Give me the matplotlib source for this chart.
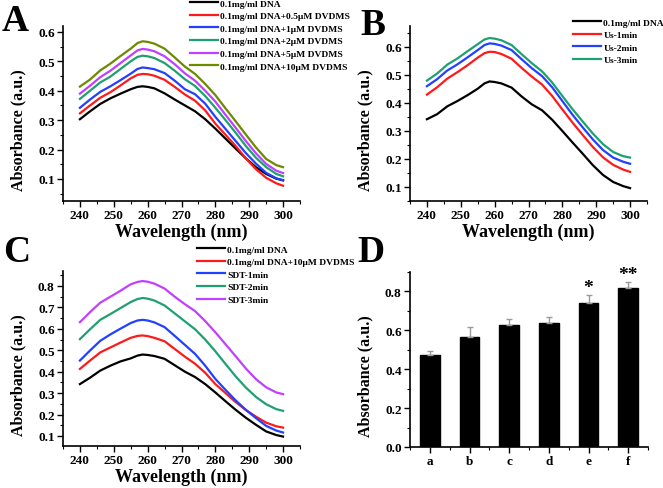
import matplotlib
matplotlib.use('Agg')
import matplotlib.pyplot as plt
from matplotlib.ticker import MultipleLocator

plt.rcParams['font.family'] = ['Liberation Serif', 'DejaVu Serif']
plt.rcParams['font.weight'] = 'bold'

# wavelengths (nm)
wl = [240, 243, 246, 249, 252, 255, 257, 258.5, 260, 262, 265, 268,
      271, 274, 277, 280, 283, 286, 289, 292, 295, 298, 300]

# panel A
a_dna = [0.303, 0.330, 0.355, 0.374, 0.390, 0.405, 0.413, 0.415, 0.413, 0.408, 0.391, 0.370,
         0.350, 0.330, 0.303, 0.271, 0.237, 0.203, 0.170, 0.140, 0.117, 0.101, 0.095]
a_05 = [0.323, 0.350, 0.376, 0.395, 0.418, 0.442, 0.454, 0.457, 0.456, 0.451, 0.437, 0.413,
        0.387, 0.366, 0.333, 0.288, 0.250, 0.212, 0.170, 0.133, 0.104, 0.085, 0.077]
a_1 = [0.342, 0.370, 0.396, 0.415, 0.436, 0.458, 0.474, 0.479, 0.477, 0.473, 0.460, 0.434,
       0.405, 0.388, 0.356, 0.311, 0.270, 0.229, 0.188, 0.152, 0.121, 0.102, 0.096]
a_2 = [0.372, 0.400, 0.428, 0.448, 0.474, 0.500, 0.515, 0.519, 0.517, 0.511, 0.494, 0.468,
       0.439, 0.416, 0.382, 0.342, 0.300, 0.257, 0.212, 0.172, 0.140, 0.117, 0.109]
a_5 = [0.390, 0.417, 0.446, 0.468, 0.494, 0.520, 0.537, 0.542, 0.540, 0.534, 0.517, 0.490,
       0.459, 0.434, 0.400, 0.363, 0.318, 0.274, 0.229, 0.187, 0.151, 0.128, 0.120]
a_10 = [0.414, 0.438, 0.469, 0.492, 0.518, 0.543, 0.562, 0.568, 0.566, 0.560, 0.543, 0.513,
        0.482, 0.457, 0.423, 0.385, 0.340, 0.296, 0.251, 0.207, 0.168, 0.147, 0.140]
a_labels = ['0.1mg/ml DNA', '0.1mg/ml DNA+0.5μM DVDMS', '0.1mg/ml DNA+1μM DVDMS',
            '0.1mg/ml DNA+2μM DVDMS', '0.1mg/ml DNA+5μM DVDMS', '0.1mg/ml DNA+10μM DVDMS']

# panel B
b_dna = [0.342, 0.360, 0.388, 0.407, 0.428, 0.451, 0.470, 0.477, 0.475, 0.470, 0.455, 0.423,
         0.395, 0.374, 0.340, 0.300, 0.259, 0.219, 0.178, 0.143, 0.118, 0.103, 0.096]
b_1 = [0.430, 0.456, 0.487, 0.510, 0.535, 0.562, 0.578, 0.583, 0.582, 0.575, 0.558, 0.525,
       0.494, 0.466, 0.425, 0.377, 0.330, 0.286, 0.243, 0.206, 0.179, 0.162, 0.154]
b_2 = [0.460, 0.485, 0.516, 0.538, 0.563, 0.589, 0.607, 0.613, 0.611, 0.605, 0.589, 0.556,
       0.524, 0.496, 0.456, 0.407, 0.358, 0.313, 0.270, 0.232, 0.205, 0.190, 0.183]
b_3 = [0.480, 0.505, 0.537, 0.559, 0.585, 0.610, 0.627, 0.632, 0.630, 0.624, 0.607, 0.574,
       0.542, 0.513, 0.473, 0.425, 0.378, 0.334, 0.291, 0.253, 0.225, 0.210, 0.205]
b_labels = ['0.1mg/ml DNA', 'Us-1min', 'Us-2min', 'Us-3min']

# panel C
c_dna = [0.342, 0.372, 0.405, 0.428, 0.448, 0.462, 0.475, 0.480, 0.478, 0.473, 0.460, 0.430,
         0.400, 0.375, 0.342, 0.303, 0.262, 0.222, 0.185, 0.152, 0.121, 0.104, 0.097]
c_10 = [0.413, 0.452, 0.490, 0.513, 0.536, 0.558, 0.567, 0.569, 0.566, 0.558, 0.542, 0.506,
        0.470, 0.437, 0.395, 0.342, 0.300, 0.258, 0.221, 0.190, 0.162, 0.145, 0.139]
c_1 = [0.452, 0.499, 0.544, 0.574, 0.601, 0.627, 0.639, 0.642, 0.639, 0.630, 0.608, 0.567,
       0.525, 0.483, 0.428, 0.366, 0.315, 0.266, 0.222, 0.183, 0.147, 0.125, 0.116]
c_2 = [0.552, 0.598, 0.642, 0.669, 0.697, 0.725, 0.739, 0.744, 0.741, 0.732, 0.709, 0.672,
       0.635, 0.598, 0.550, 0.495, 0.436, 0.378, 0.326, 0.282, 0.248, 0.225, 0.217]
c_3 = [0.631, 0.678, 0.722, 0.750, 0.778, 0.808, 0.819, 0.823, 0.820, 0.811, 0.788, 0.750,
       0.715, 0.683, 0.636, 0.584, 0.528, 0.472, 0.415, 0.365, 0.327, 0.303, 0.295]
c_labels = ['0.1mg/ml DNA', '0.1mg/ml DNA+10μM DVDMS', 'SDT-1min', 'SDT-2min', 'SDT-3min']

# panel D
groups = ['a', 'b', 'c', 'd', 'e', 'f']
d_vals = [0.475, 0.565, 0.630, 0.640, 0.740, 0.820]
d_err = [0.020, 0.050, 0.030, 0.030, 0.040, 0.030]
d_sig = ['', '', '', '', '*', '**']

colors = ['black', '#ff1a1a', '#2340ff', '#1fa070', '#c040ff', '#6b8a00']

fig = plt.figure(figsize=(6.63, 4.89), dpi=100)
W, H = 663.0, 489.0


def make_ax(l, r, t, b):
    ax = fig.add_axes([l / W, 1 - b / H, (r - l) / W, (b - t) / H])
    for s in ['top', 'right']:
        ax.spines[s].set_visible(False)
    ax.spines['left'].set_linewidth(1.2)
    ax.spines['bottom'].set_linewidth(1.2)
    ax.tick_params(direction='out', length=4, width=1, labelsize=9.5, pad=2)
    ax.tick_params(which='minor', direction='out', length=2.5, width=0.8)
    return ax


def ylab(ax):
    ax.set_ylabel('Absorbance (a.u.)', fontsize=11.5, fontweight='bold', labelpad=2)
    ax.yaxis.set_label_coords(-0.155, 0.41)


def spectra(ax, series, labels, ylim, leg_anchor):
    for i, (ys, lab) in enumerate(zip(series, labels)):
        ax.plot(wl, ys, color=colors[i], lw=1.6, label=lab)
    ax.set_xlim(235, 305)
    ax.set_ylim(*ylim)
    ax.xaxis.set_major_locator(MultipleLocator(10))
    ax.xaxis.set_minor_locator(MultipleLocator(5))
    ax.yaxis.set_major_locator(MultipleLocator(0.1))
    ax.yaxis.set_minor_locator(MultipleLocator(0.05))
    ax.set_xlabel('Wavelength (nm)', fontsize=13, fontweight='bold', labelpad=1)
    ylab(ax)
    ax.legend(loc='upper left', bbox_to_anchor=leg_anchor, bbox_transform=fig.transFigure,
              frameon=False, prop={'size': 6.8, 'weight': 'bold'}, handlelength=3.0,
              handletextpad=0.2, labelspacing=0.42, borderaxespad=0, borderpad=0)


axA = make_ax(63, 300, 27, 202)
spectra(axA, [a_dna, a_05, a_1, a_2, a_5, a_10], a_labels, (0.025, 0.62), (190 / W, 1 - 0 / H))

axB = make_ax(410, 647, 27, 202)
spectra(axB, [b_dna, b_1, b_2, b_3], b_labels, (0.05, 0.675), (573 / W, 1 - 19 / H))

axC = make_ax(63, 300, 272, 447)
spectra(axC, [c_dna, c_10, c_1, c_2, c_3], c_labels, (0.053, 0.87), (197 / W, 1 - 246 / H))

axD = make_ax(410, 648, 273, 448)
x = list(range(len(groups)))
axD.bar(x, d_vals, width=0.5, color='black', edgecolor='black',
        yerr=[[0] * len(d_err), d_err], ecolor='#9a9a9a',
        error_kw={'capsize': 2, 'elinewidth': 1, 'capthick': 1})
for xi, v, e, s in zip(x, d_vals, d_err, d_sig):
    if s:
        axD.text(xi, v + e - 0.005, s, ha='center', va='bottom', fontsize=14, fontweight='bold')
axD.set_xlim(-0.5, 5.5)
axD.set_ylim(0, 0.9)
axD.set_xticks(x)
axD.set_xticklabels(groups)
axD.xaxis.set_minor_locator(MultipleLocator(0.5))
axD.yaxis.set_major_locator(MultipleLocator(0.2))
axD.yaxis.set_minor_locator(MultipleLocator(0.1))
ylab(axD)

# panel letters
for lbl, px, py in [('A', 2, 31), ('B', 360, 35), ('C', 3, 262), ('D', 357, 262)]:
    fig.text(px / W, 1 - py / H, lbl, fontsize=27, fontweight='bold', ha='left', va='baseline')

fig.savefig('out.png', dpi=100)
